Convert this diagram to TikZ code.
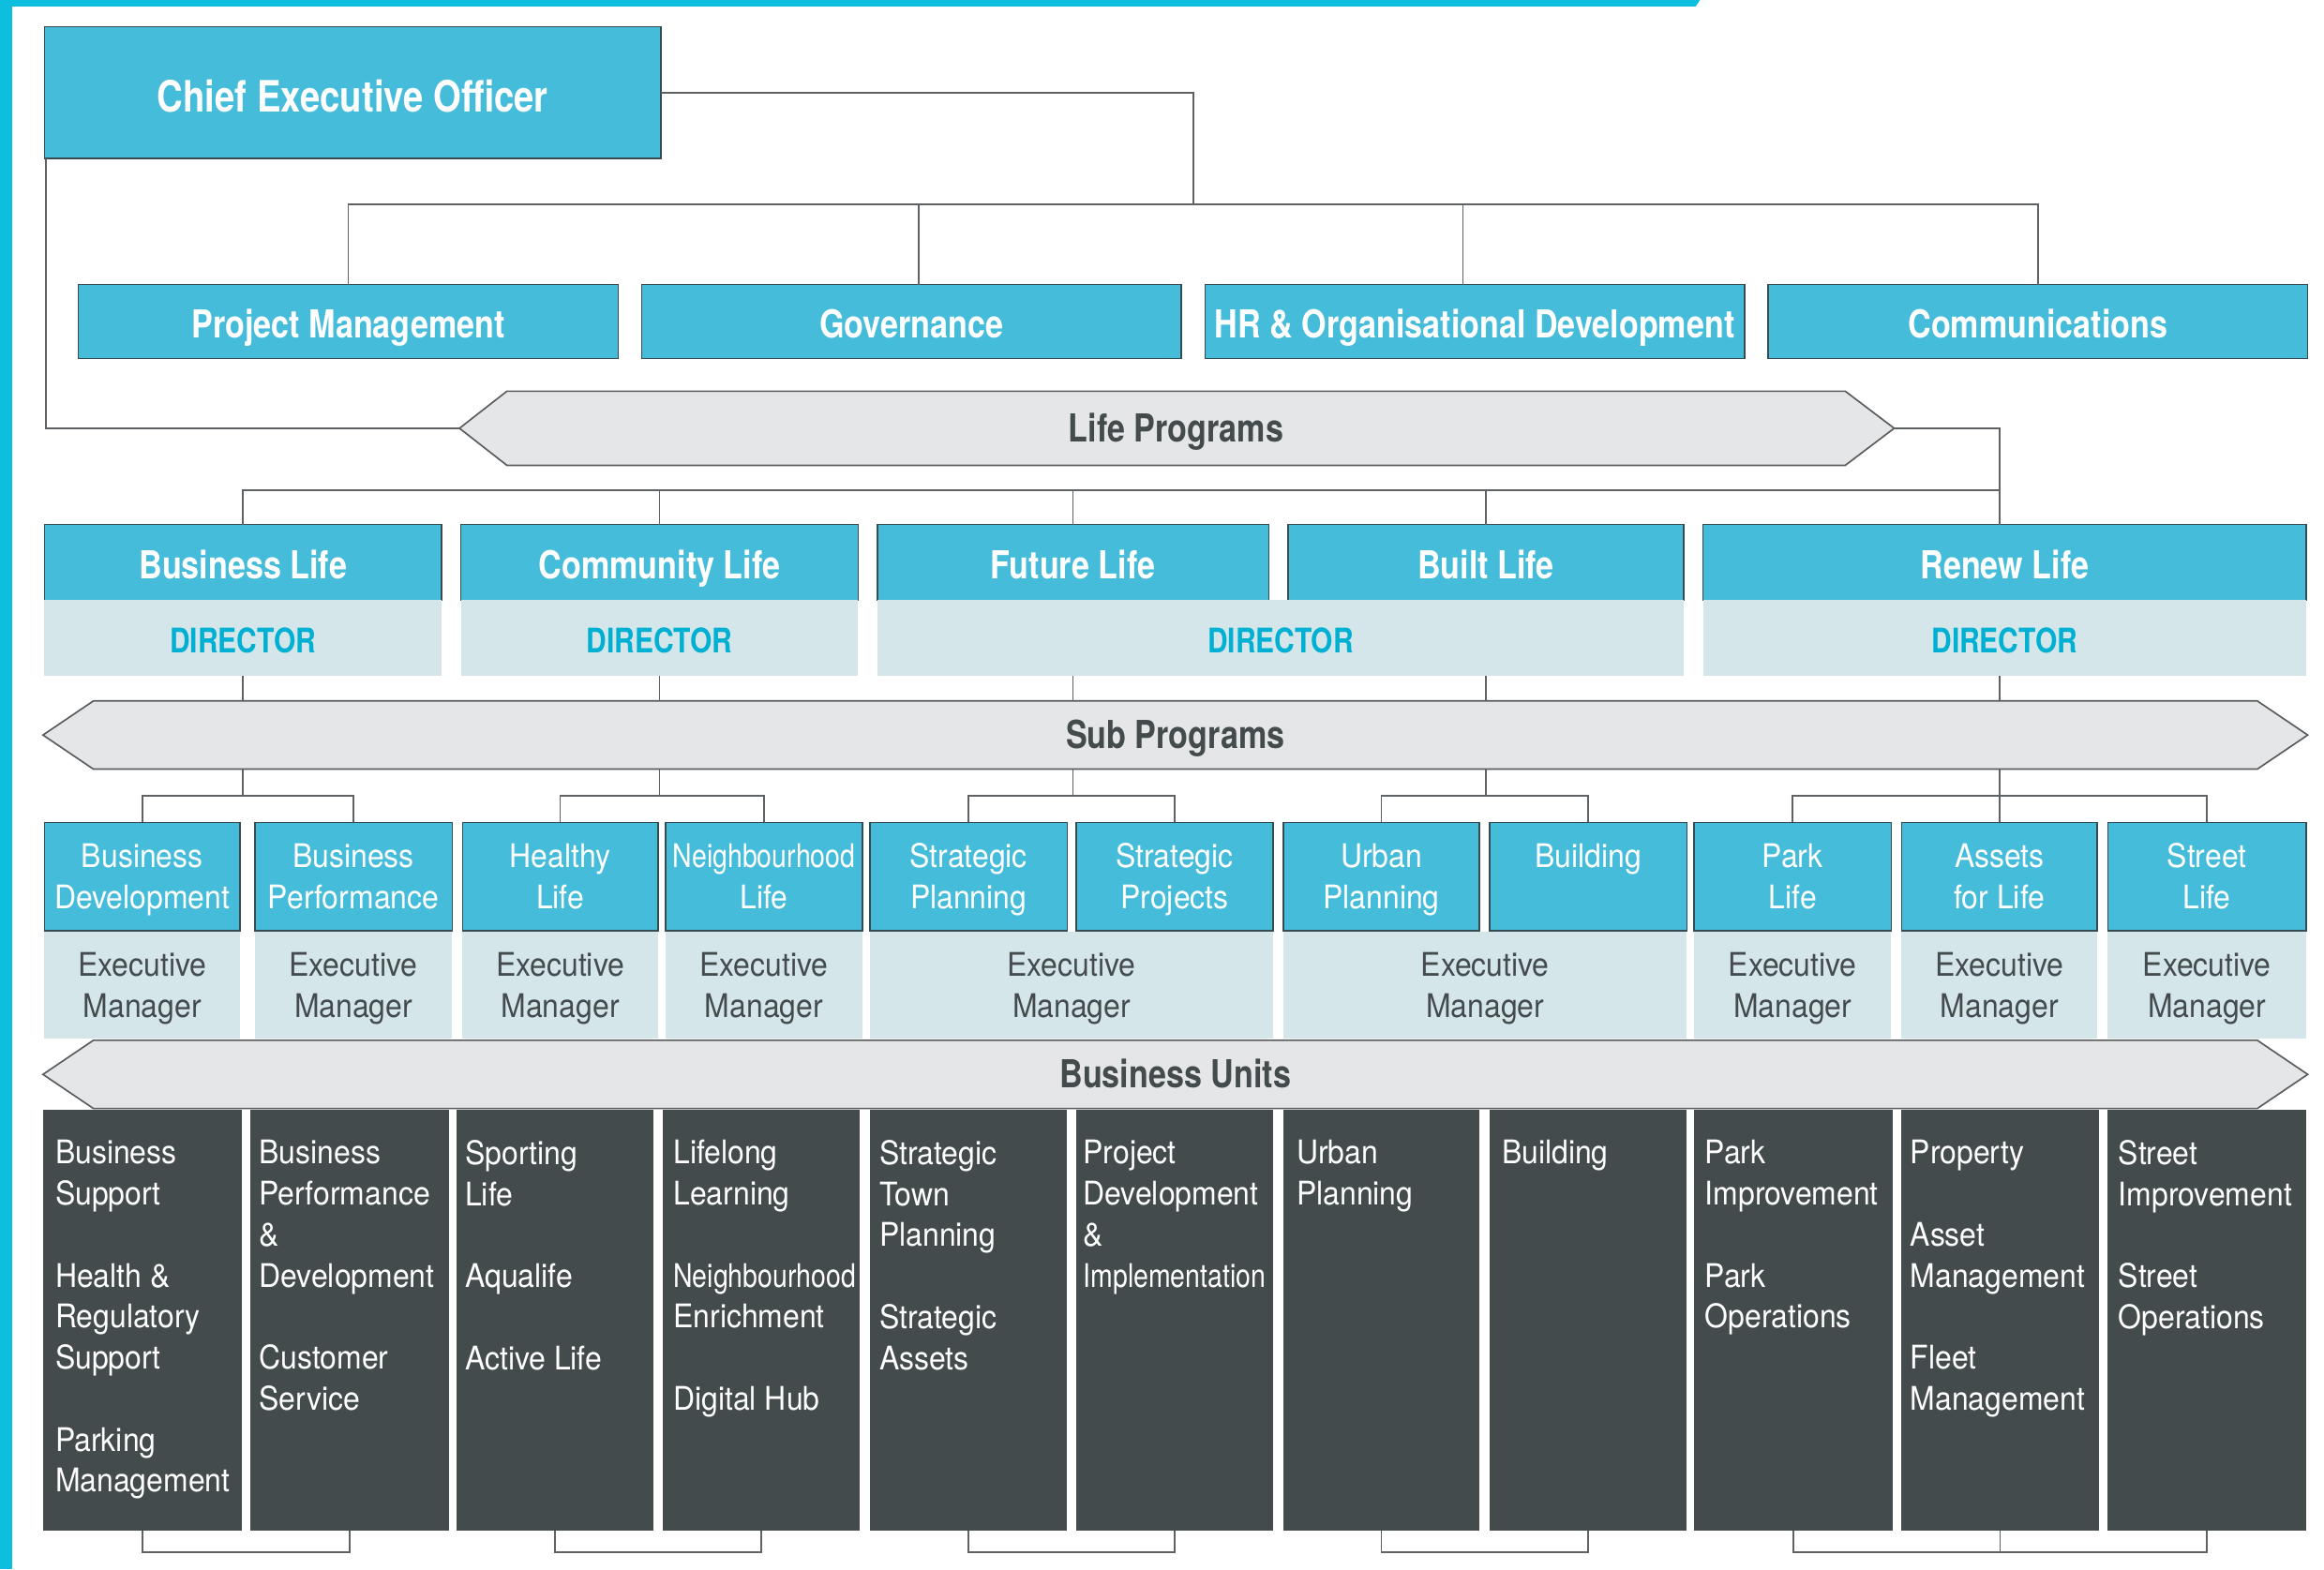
\documentclass[tikz,border=0pt]{standalone}
\usepackage{fontspec}
\usepackage{tikz}
\usetikzlibrary{calc,backgrounds}

\newfontfamily\titlefont[FakeStretch=0.83]{TeX Gyre Heros}
\newfontfamily\bodyfont[FakeStretch=0.92]{TeX Gyre Heros}
\newfontfamily\narrowfont[FakeStretch=0.82]{TeX Gyre Heros}

\definecolor{lifeblue}{RGB}{69,188,218}
\definecolor{boxedge}{RGB}{55,75,82}
\definecolor{paleblue}{RGB}{213,230,235}
\definecolor{bannergray}{RGB}{229,230,232}
\definecolor{banneredge}{RGB}{90,92,94}
\definecolor{unitdark}{RGB}{68,75,77}
\definecolor{dirblue}{RGB}{0,176,210}
\definecolor{stripblue}{RGB}{13,190,222}
\definecolor{linegray}{RGB}{95,98,100}
\definecolor{textdark}{RGB}{68,75,77}

% two centred lines of even height
\newcommand{\twoline}[2]{\rule[-2.7pt]{0pt}{14.2pt}#1\\\rule[-2.7pt]{0pt}{14.2pt}#2}

\tikzset{
	conn/.style={draw=linegray, line width=0.6pt},
	wh/.style 2 args={minimum width=#1*0.02cm, minimum height=#2*0.02cm},
	boxbase/.style={anchor=north west, inner sep=0pt, outer sep=0pt},
	titlebox/.style={boxbase, draw=boxedge, line width=0.5pt, fill=lifeblue, text=white,
		text height=12.6pt, text depth=0pt,
		font=\titlefont\bfseries\fontsize{14.8}{17}\selectfont},
	ceobox/.style={titlebox, text height=14.7pt,
		font=\titlefont\bfseries\fontsize{16.6}{19}\selectfont},
	headbox/.style={boxbase, draw=boxedge, line width=0.5pt, fill=lifeblue, text=white,
		align=center, font=\bodyfont\fontsize{12.5}{15.6}\selectfont},
	dircell/.style={boxbase, fill=paleblue, text=dirblue, text height=11.6pt, text depth=0pt,
		font=\titlefont\bfseries\fontsize{13}{15}\selectfont},
	execcell/.style={boxbase, fill=paleblue, text=textdark, align=center,
		font=\bodyfont\fontsize{12.5}{15.6}\selectfont},
	unitbox/.style={boxbase, fill=unitdark},
	unittext/.style={anchor=north west, inner sep=0pt, text=white, align=left,
		font=\bodyfont\fontsize{12.5}{15.76}\selectfont, execute at begin node=\strut},
	bannernode/.style={inner sep=0pt, outer sep=0pt, text=textdark,
		text height=10.6pt, text depth=0pt,
		font=\titlefont\bfseries\fontsize{14.8}{17}\selectfont},
	banner/.style={fill=bannergray, draw=banneredge, line width=0.6pt},
}

\begin{document}
\begin{tikzpicture}[x=0.02cm, y=-0.02cm]
	\useasboundingbox (0,0) rectangle (1568,1059);
	
	% page stripes
	\fill[stripblue] (0,0) rectangle (8,1059);
	\fill[stripblue] (0,0) -- (1147,0) -- (1144,4.3) -- (0,4.3) -- cycle;
	
	% CEO and offices
	\node[ceobox, wh={416}{89}] (ceo) at (30,18) {Chief Executive Officer};
	\node[titlebox, wh={364}{50}] (pm) at (53,192) {Project Management};
	\node[titlebox, wh={364}{50}] (gov) at (433,192) {Governance};
	\node[titlebox, wh={364}{50}] (hr) at (813,192) {HR \& Organisational Development};
	\node[titlebox, wh={364}{50}] (comm) at (1193,192) {Communications};
	
	% banners (arrow tips drawn behind)
	\node[bannernode, wh={903}{50}] (lifeprog) at (793.5,289) {Life Programs};
	\node[bannernode, wh={1460}{46}] (subprog) at (793,496) {Sub Programs};
	\node[bannernode, wh={1460}{46}] (bunits) at (793,725) {Business Units};
	\coordinate (lifeW) at ($(lifeprog.west)+(-32,0)$);
	\coordinate (lifeE) at ($(lifeprog.east)+(33,0)$);
	\begin{scope}[on background layer]
		\draw[banner] (lifeprog.north west) -- (lifeprog.north east) -- (lifeE)
		-- (lifeprog.south east) -- (lifeprog.south west) -- (lifeW) -- cycle;
		\foreach \b in {subprog,bunits}
		\draw[banner] (\b.north west) -- (\b.north east) -- ($(\b.east)+(34,0)$)
		-- (\b.south east) -- (\b.south west) -- ($(\b.west)+(-34,0)$) -- cycle;
	\end{scope}
	
	% directors
	\node[titlebox, wh={268}{51}] (bizlife) at (30,354) {Business Life};
	\node[dircell, wh={268}{51}] (bizdir) at (30,405) {DIRECTOR};
	\node[titlebox, wh={268}{51}] (commlife) at (311,354) {Community Life};
	\node[dircell, wh={268}{51}] (commdir) at (311,405) {DIRECTOR};
	\node[titlebox, wh={264}{51}] (future) at (592,354) {Future Life};
	\node[titlebox, wh={267}{51}] (built) at (869,354) {Built Life};
	\node[dircell, wh={544}{51}] (fbdir) at (592,405) {DIRECTOR};
	\node[titlebox, wh={407}{51}] (renew) at (1149,354) {Renew Life};
	\node[dircell, wh={407}{51}] (renewdir) at (1149,405) {DIRECTOR};
	
	% sub programs
	\foreach \x/\w/\n/\t in {30/132/bizdev/{\twoline{Business}{Development}},
		172/133/bizperf/{\twoline{Business}{Performance}},
		312/132/healthy/{\twoline{Healthy}{Life}},
		449/133/neighb/{\twoline{{\narrowfont Neighbourhood}}{Life}},
		587/133/stratplan/{\twoline{Strategic}{Planning}},
		726/133/stratproj/{\twoline{Strategic}{Projects}},
		866/132/urban/{\twoline{Urban}{Planning}},
		1005/133/building/{\twoline{Building}{}},
		1143/133/park/{\twoline{Park}{Life}},
		1283/132/assets/{\twoline{Assets}{for Life}},
		1422/134/street/{\twoline{Street}{Life}}}
	\node[headbox, wh={\w}{73}] (\n) at (\x,555) {\t};
	
	% executive managers
	\foreach \x/\w/\n in {30/132/ex1, 172/133/ex2, 312/132/ex3, 449/133/ex4,
		587/272/ex56, 866/272/ex78, 1143/133/ex9, 1283/132/ex10, 1422/134/ex11}
	\node[execcell, wh={\w}{72}] (\n) at (\x,629) {\twoline{Executive}{Manager}};
	
	% business units
	\foreach \x/\w [count=\i] in {29/134, 169/134, 308/133, 447/133, 587/133, 726/133,
		866/132, 1005/133, 1143/134, 1283/133, 1422/134}
	\node[unitbox, wh={\w}{284}] (u\i) at (\x,749) {};
	
	\node[unittext] (t1) at ($(u1.north west)+(8,20)$) {Business\\Support\\[15.76pt]Health \&\\Regulatory\\Support\\[15.76pt]Parking\\Management};
	\node[unittext] (t2) at ($(u2.north west)+(5.5,20)$) {Business\\Performance\\\&\\Development\\[15.76pt]Customer\\Service};
	\node[unittext] (t3) at ($(u3.north west)+(5.5,20)$) {Sporting\\Life\\[15.76pt]Aqualife\\[15.76pt]Active Life};
	\node[unittext] (t4) at ($(u4.north west)+(7,20)$) {Lifelong\\Learning\\[15.76pt]{\narrowfont Neighbourhood}\\Enrichment\\[15.76pt]Digital Hub};
	\node[unittext] (t5) at ($(u5.north west)+(6,20)$) {Strategic\\Town\\Planning\\[15.76pt]Strategic\\Assets};
	\node[unittext] (t6) at ($(u6.north west)+(4.5,20)$) {Project\\Development\\\&\\{\narrowfont Implementation}};
	\node[unittext] (t7) at ($(u7.north west)+(8.5,20)$) {Urban\\Planning};
	\node[unittext] (t8) at ($(u8.north west)+(8,16.5)$) {Building};
	\node[unittext] (t9) at ($(u9.north west)+(7,20)$) {Park\\Improvement\\[15.76pt]Park\\Operations};
	\node[unittext] (t10) at ($(u10.north west)+(5.5,20)$) {Property\\[15.76pt]Asset\\Management\\[15.76pt]Fleet\\Management};
	\node[unittext] (t11) at ($(u11.north west)+(7,20)$) {Street\\Improvement\\[15.76pt]Street\\Operations};
	
	% CEO links
	\coordinate (ceojoin) at (805,138);
	\draw[conn] (ceo.east) -| (ceojoin);
	\draw[conn] (pm.north) |- (ceojoin) -| (comm.north);
	\draw[conn] ([xshift=0.1cm]gov.north) -- ([xshift=0.1cm]gov.north |- ceojoin);
	\draw[conn] ([xshift=-0.16cm]hr.north) -- ([xshift=-0.16cm]hr.north |- ceojoin);
	\draw[conn] ([xshift=0.02cm]ceo.south west) |- (lifeW);
	
	% life programs to directors
	\coordinate (dirbar) at (0,331);
	\draw[conn] (lifeE) -| (renew.north -| assets.north);
	\draw[conn] (bizlife.north) |- (dirbar -| assets.north);
	\foreach \n in {commlife,future,built}
	\draw[conn] (\n.north) -- (\n.north |- dirbar);
	
	% directors to sub programs
	\draw[conn] (bizdir.south) -- (bizdir.south |- subprog.north);
	\draw[conn] (commdir.south) -- (commdir.south |- subprog.north);
	\draw[conn] (future.south |- fbdir.south) -- (future.south |- subprog.north);
	\draw[conn] (built.south |- fbdir.south) -- (built.south |- subprog.north);
	\draw[conn] (renewdir.south -| assets.north) -- (subprog.north -| assets.north);
	
	% sub programs to their heads
	\coordinate (subbar) at (0,537);
	\foreach \d/\a/\b in {bizlife/bizdev/bizperf, commlife/healthy/neighb,
		future/stratplan/stratproj, built/urban/building}{
		\draw[conn] (subprog.south -| \d.south) -- (subbar -| \d.south);
		\draw[conn] (\a.north) |- (subbar -| \d.south) -| (\b.north);
	}
	\draw[conn] (subprog.south -| assets.north) -- (assets.north);
	\draw[conn] (park.north) |- (subbar -| street.north) -- (street.north);
	
	% brackets under the units
	\foreach \a/\b in {u1/u2, u3/u4, u5/u6, u7/u8, u9/u11}
	\draw[conn] (\a.south) -- ++(0,14.5) -| (\b.south);
	\draw[conn] (u10.south) -- ++(0,14.5);
\end{tikzpicture}
\end{document}
